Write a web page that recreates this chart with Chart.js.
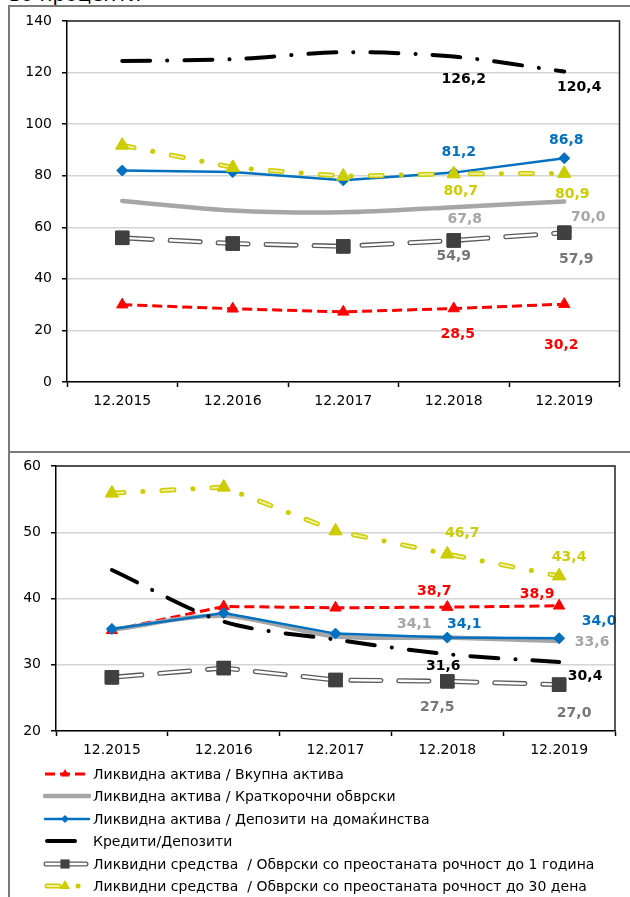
<!DOCTYPE html>
<html lang="mk">
<head>
<meta charset="UTF-8"/>
<meta name="viewport" content="width=device-width,initial-scale=1.0"/>
<title>Показатели за ликвидност</title>
<script src="https://cdn.jsdelivr.net/npm/chart.js@4.4.2/dist/chart.umd.min.js"></script>
<style>
body{margin:0;width:630px;height:897px;overflow:hidden;position:relative;background:#fff;font-family:"DejaVu Sans",sans-serif;color:#000}
.cap{position:absolute;left:9px;top:-16px;font-size:20px;line-height:20px;white-space:nowrap}
.frame{position:absolute;left:8px;width:700px;border:2px solid #7b7b7b}
#f1{top:5px;height:444px}
#f2{top:451px;height:480px}
canvas.ch{position:absolute;left:9px}
#c1{top:6px}
#c2{top:453px}
#legend{position:absolute;left:0;top:763px;font-size:14px}
.row{position:relative;height:22.4px;line-height:22.4px;white-space:pre}
.row canvas{position:absolute;left:43px;top:3px}
.row span{position:absolute;left:93px;top:0}
</style>
</head>
<body>
<div class="cap">во проценти</div>
<div class="frame" id="f1"></div>
<div class="frame" id="f2"></div>
<canvas class="ch" id="c1" width="621" height="447"></canvas>
<canvas class="ch" id="c2" width="621" height="312"></canvas>
<div id="legend"></div>
<script>
const categories = ["12.2015", "12.2016", "12.2017", "12.2018", "12.2019"];
const seriesNames = [
  "Ликвидна актива / Вкупна актива",
  "Ликвидна актива / Краткорочни обврски",
  "Ликвидна актива / Депозити на домаќинства",
  "Кредити/Депозити",
  "Ликвидни средства  / Обврски со преостаната рочност до 1 година",
  "Ликвидни средства  / Обврски со преостаната рочност до 30 дена"
];

// горен графикон
const topLiqTotal = [30.0, 28.4, 27.2, 28.5, 30.2];
const topLiqShort = [70.2, 66.5, 65.8, 67.8, 70.0];
const topLiqHouse = [82.0, 81.4, 78.2, 81.2, 86.8];
const topLoanDep  = [124.5, 125.2, 127.9, 126.2, 120.4];
const topFunds1y  = [55.9, 53.7, 52.6, 54.9, 57.9];
const topFunds30d = [91.8, 83.2, 79.8, 80.7, 80.9];
const topYMin = 0, topYMax = 140, topYStep = 20;

// долен графикон
const botLiqTotal = [35.2, 38.8, 38.6, 38.7, 38.9];
const botLiqShort = [35.3, 37.4, 34.3, 34.1, 33.6];
const botLiqHouse = [35.4, 37.8, 34.7, 34.1, 34.0];
const botLoanDep  = [44.3, 36.5, 33.8, 31.6, 30.4];
const botFunds1y  = [28.1, 29.5, 27.7, 27.5, 27.0];
const botFunds30d = [55.9, 56.8, 50.2, 46.7, 43.4];
const botYMin = 20, botYMax = 60, botYStep = 10;

// изглед на сериите
const styles = [
  {color:"#FF0000", width:3, dash:[10,5], cap:"butt", marker:"triangle", radius:6.5, label:"#FF0000", lg:{x0:2, x1:46, r:5}},
  {color:"#A6A6A6", width:4.5, dash:[], cap:"round", tension:0.3, label:"#A6A6A6", lg:{x0:2, x1:46}},
  {color:"#0070C0", width:2.5, dash:[], cap:"round", marker:"rectRot", radius:5.5, label:"#0070C0", lg:{x0:2, x1:46, r:4}},
  {color:"#000000", width:4, dash:[28,17,0.1,17], cap:"round", tension:0.3, label:"#000000", lg:{x0:4, x1:32}},
  {color:"#595959", width:5, dash:[30,18], cap:"round", inner:"#FFFFFF", innerWidth:2.4, innerDash:[30,18], marker:"rect", radius:9.5, markerColor:"#404040", label:"#767676", lg:{x0:3, x1:43, solid:true, r:6.5}},
  {color:"#CCCC00", width:5, dash:[12,19,0.1,19], cap:"round", inner:"#F0F09A", innerWidth:2, innerDash:[12,38.1], marker:"triangle", radius:7.5, label:"#CCCC00", lg:{x0:4, x1:46, r:6}}
];

const topOffsets = [
  [[3,4,26],[4,-3,41]],
  [[3,11,12],[4,24,16]],
  [[3,5,-20],[4,2,-18]],
  [[3,10,23],[4,15,16]],
  [[3,0,16],[4,12,27]],
  [[3,7,17],[4,8,21]]
];
const botOffsets = [
  [[3,-13,-16],[4,-22,-11]],
  [[3,-33,-13],[4,33,1]],
  [[3,17,-13],[4,40,-17]],
  [[3,-4,12],[4,26,14]],
  [[3,-10,26],[4,15,29]],
  [[3,15,-21],[4,10,-19]]
];

Chart.defaults.font.family = '"DejaVu Sans", sans-serif';
Chart.defaults.font.size = 14;
Chart.defaults.color = "#000";

const fmt = v => v.toFixed(1).replace(".", ",");

const plotBox = {
  id: "plotBox",
  afterDraw(chart){
    const a = chart.chartArea, ctx = chart.ctx;
    ctx.save();
    ctx.strokeStyle = "#222"; ctx.lineWidth = 1.5;
    ctx.beginPath();
    ctx.moveTo(a.left, a.top); ctx.lineTo(a.right, a.top); ctx.lineTo(a.right, a.bottom);
    ctx.stroke();
    ctx.restore();
  }
};

// двојна линија (надворешна + внатрешна)
const innerLine = {
  id: "innerLine",
  afterDatasetDraw(chart, args){
    const s = styles[args.index];
    if(!s.inner) return;
    const ctx = chart.ctx, pts = args.meta.data;
    ctx.save();
    ctx.strokeStyle = s.inner; ctx.lineWidth = s.innerWidth; ctx.lineCap = s.cap;
    ctx.setLineDash(s.innerDash);
    ctx.beginPath();
    pts.forEach((p,i) => i ? ctx.lineTo(p.x, p.y) : ctx.moveTo(p.x, p.y));
    ctx.stroke();
    ctx.restore();
    pts.forEach(p => p.draw(ctx, chart.chartArea));
  }
};

const valueLabels = offsets => ({
  id: "valueLabels",
  afterDatasetsDraw(chart){
    const ctx = chart.ctx;
    ctx.save();
    ctx.font = 'bold 14px "DejaVu Sans", sans-serif';
    ctx.textAlign = "center"; ctx.textBaseline = "middle";
    chart.data.datasets.forEach((ds, di) => {
      const meta = chart.getDatasetMeta(di);
      offsets[di].forEach(([idx, dx, dy]) => {
        const p = meta.data[idx];
        ctx.fillStyle = styles[di].label;
        ctx.fillText(fmt(ds.data[idx]), p.x + dx, p.y + dy);
      });
    });
    ctx.restore();
  }
});

function makeChart(id, series, yMin, yMax, yStep, box, offsets){
  const datasets = series.map((data, i) => {
    const s = styles[i], mc = s.markerColor || s.color;
    return {
      label: seriesNames[i], data,
      borderColor: s.color, backgroundColor: mc, borderWidth: s.width,
      borderDash: s.dash, borderCapStyle: s.cap, borderJoinStyle: "round",
      tension: s.tension || 0,
      pointStyle: s.marker || "circle", pointRadius: s.marker ? s.radius : 0,
      pointBackgroundColor: mc, pointBorderColor: mc, pointBorderWidth: 1,
      order: series.length - i
    };
  });
  return new Chart(document.getElementById(id), {
    type: "line",
    data: {labels: categories, datasets},
    options: {
      responsive: false, animation: false, events: [],
      layout: {padding: {top: box.top, right: box.right, left: 0, bottom: 0}},
      plugins: {legend: {display: false}, tooltip: {enabled: false}},
      scales: {
        x: {
          offset: true,
          grid: {display: true, drawOnChartArea: false, offset: true, tickLength: 5, tickColor: "#000", tickWidth: 1.5},
          border: {color: "#000", width: 1.5},
          ticks: {padding: 6, maxRotation: 0},
          afterFit: sc => { sc.height = box.xh; }
        },
        y: {
          min: yMin, max: yMax,
          grid: {color: "#D4D4D4", lineWidth: 1.5, tickLength: 5, tickColor: "#000", tickWidth: 1.5},
          border: {color: "#000", width: 1.5},
          ticks: {stepSize: yStep, padding: 10},
          afterFit: sc => { sc.width = box.yw; sc.paddingTop = 0; }
        }
      }
    },
    plugins: [plotBox, innerLine, valueLabels(offsets)]
  });
}

makeChart("c1", [topLiqTotal, topLiqShort, topLiqHouse, topLoanDep, topFunds1y, topFunds30d],
  topYMin, topYMax, topYStep, {top: 15, right: 4, yw: 58, xh: 71}, topOffsets);
makeChart("c2", [botLiqTotal, botLiqShort, botLiqHouse, botLoanDep, botFunds1y, botFunds30d],
  botYMin, botYMax, botYStep, {top: 13, right: 15, yw: 47, xh: 34}, botOffsets);

// легенда
function drawMarker(ctx, type, x, y, r, color){
  ctx.setLineDash([]);
  ctx.fillStyle = color;
  ctx.beginPath();
  if(type === "triangle"){ ctx.moveTo(x, y - r); ctx.lineTo(x + r * 0.866, y + r * 0.5); ctx.lineTo(x - r * 0.866, y + r * 0.5); }
  else if(type === "rectRot"){ ctx.moveTo(x, y - r); ctx.lineTo(x + r, y); ctx.lineTo(x, y + r); ctx.lineTo(x - r, y); }
  else { const h = r * 0.707; ctx.rect(x - h, y - h, 2 * h, 2 * h); }
  ctx.closePath(); ctx.fill();
}
const legend = document.getElementById("legend");
seriesNames.forEach((name, i) => {
  const s = styles[i], lg = s.lg;
  const row = document.createElement("div"); row.className = "row";
  const cv = document.createElement("canvas"); cv.width = 48; cv.height = 16;
  const txt = document.createElement("span"); txt.textContent = name;
  row.appendChild(cv); row.appendChild(txt); legend.appendChild(row);
  const ctx = cv.getContext("2d");
  const y = 8;
  ctx.lineCap = s.cap;
  ctx.strokeStyle = s.color; ctx.lineWidth = s.width;
  ctx.setLineDash(lg.solid ? [] : s.dash);
  ctx.beginPath(); ctx.moveTo(lg.x0, y); ctx.lineTo(lg.x1, y); ctx.stroke();
  if(s.inner){
    ctx.strokeStyle = s.inner; ctx.lineWidth = s.innerWidth;
    ctx.setLineDash(lg.solid ? [] : s.innerDash);
    ctx.beginPath(); ctx.moveTo(lg.x0, y); ctx.lineTo(lg.x1, y); ctx.stroke();
  }
  if(s.marker) drawMarker(ctx, s.marker, 22, y, lg.r, s.markerColor || s.color);
});
</script>
</body>
</html>
